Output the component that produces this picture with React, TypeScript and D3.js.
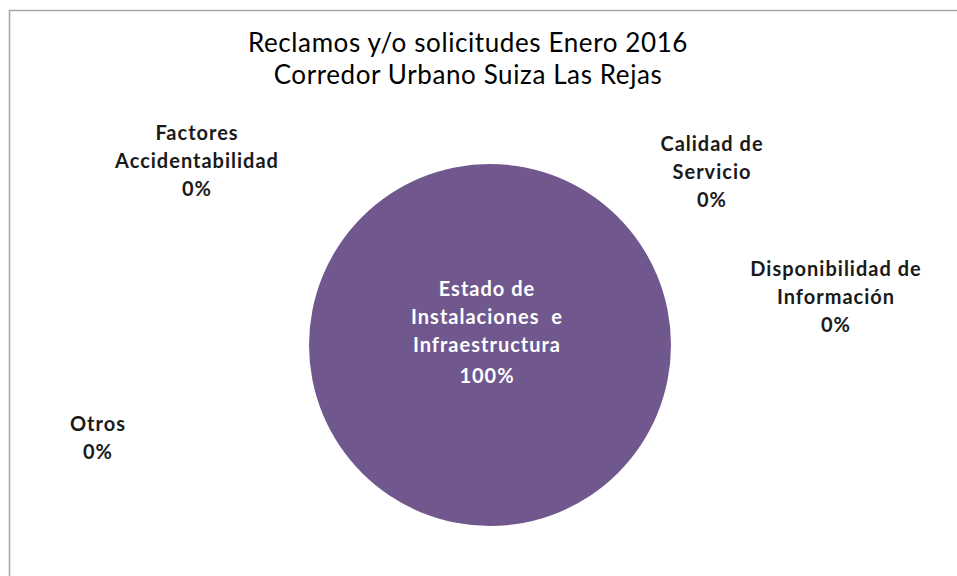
import React, { useEffect, useRef } from "react";
import * as d3 from "d3";

// data
const categories = [
  "Estado de Instalaciones  e Infraestructura",
  "Calidad de Servicio",
  "Disponibilidad de Información",
  "Otros",
  "Factores Accidentabilidad",
];
const values = [100, 0, 0, 0, 0];
const labelLines = [
  ["Estado de", "Instalaciones  e", "Infraestructura"],
  ["Calidad de", "Servicio"],
  ["Disponibilidad de", "Información"],
  ["Otros"],
  ["Factores", "Accidentabilidad"],
];
const titleLines = ["Reclamos y/o solicitudes Enero 2016", "Corredor Urbano Suiza Las Rejas"];

const App = () => {
  const ref = useRef<SVGSVGElement>(null);

  const width = 957;
  const height = 576;
  const cx = 490;
  const cy = 345;
  const radius = 181;
  const font = "Lato, 'Open Sans', sans-serif";

  useEffect(() => {
    document.body.style.margin = "0";
    const svg = d3.select(ref.current);
    svg.selectAll("*").remove();

    // chart frame
    svg
      .append("rect")
      .attr("x", 9.5)
      .attr("y", 10.5)
      .attr("width", width)
      .attr("height", height)
      .attr("fill", "white")
      .attr("stroke", "#a6a6a6")
      .attr("stroke-width", 1.5);

    svg
      .append("g")
      .selectAll("text")
      .data(titleLines)
      .enter()
      .append("text")
      .attr("x", 468)
      .attr("y", (d, i) => 52 + i * 32)
      .attr("text-anchor", "middle")
      .style("font-family", font)
      .style("font-size", "26px")
      .style("letter-spacing", "0.6px")
      .style("fill", "#000")
      .text((d) => d);

    const data = categories.map((c, i) => ({ name: c, value: values[i], lines: labelLines[i] }));
    const pie = d3
      .pie<any>()
      .sort(null)
      .value((d) => d.value)(data);
    const arc = d3.arc<any>().innerRadius(0).outerRadius(radius);

    const g = svg.append("g").attr("transform", `translate(${cx}, ${cy})`);
    g.selectAll("path")
      .data(pie)
      .enter()
      .append("path")
      .attr("d", arc)
      .attr("fill", "#70588e");

    // label anchors (offsets from pie centre, Excel "best fit" placement)
    const labelPos = [
      [-3, -49],
      [222, -194],
      [346, -69],
      [-392, 86],
      [-293, -205],
    ];
    const total = d3.sum(values);
    const labels = svg.append("g");
    data.forEach((d, i) => {
      const lines = [...d.lines, d3.format(".0%")(d.value / total)];
      const t = labels
        .append("text")
        .attr("text-anchor", "middle")
        .style("font-family", font)
        .style("font-size", "20px")
        .style("letter-spacing", "1px")
        .style("font-weight", "bold")
        .style("fill", i === 0 ? "#ffffff" : "#1a1a1a");
      lines.forEach((line, j) => {
        t.append("tspan")
          .attr("x", cx + labelPos[i][0])
          .attr("y", cy + labelPos[i][1] + j * 28 + (i === 0 && j === lines.length - 1 ? 3 : 0))
          .attr("xml:space", "preserve")
          .style("white-space", "pre")
          .text(line);
      });
    });
  }, []);

  return <svg ref={ref} width={width} height={height} style={{ display: "block" }}></svg>;
};

export default App;
